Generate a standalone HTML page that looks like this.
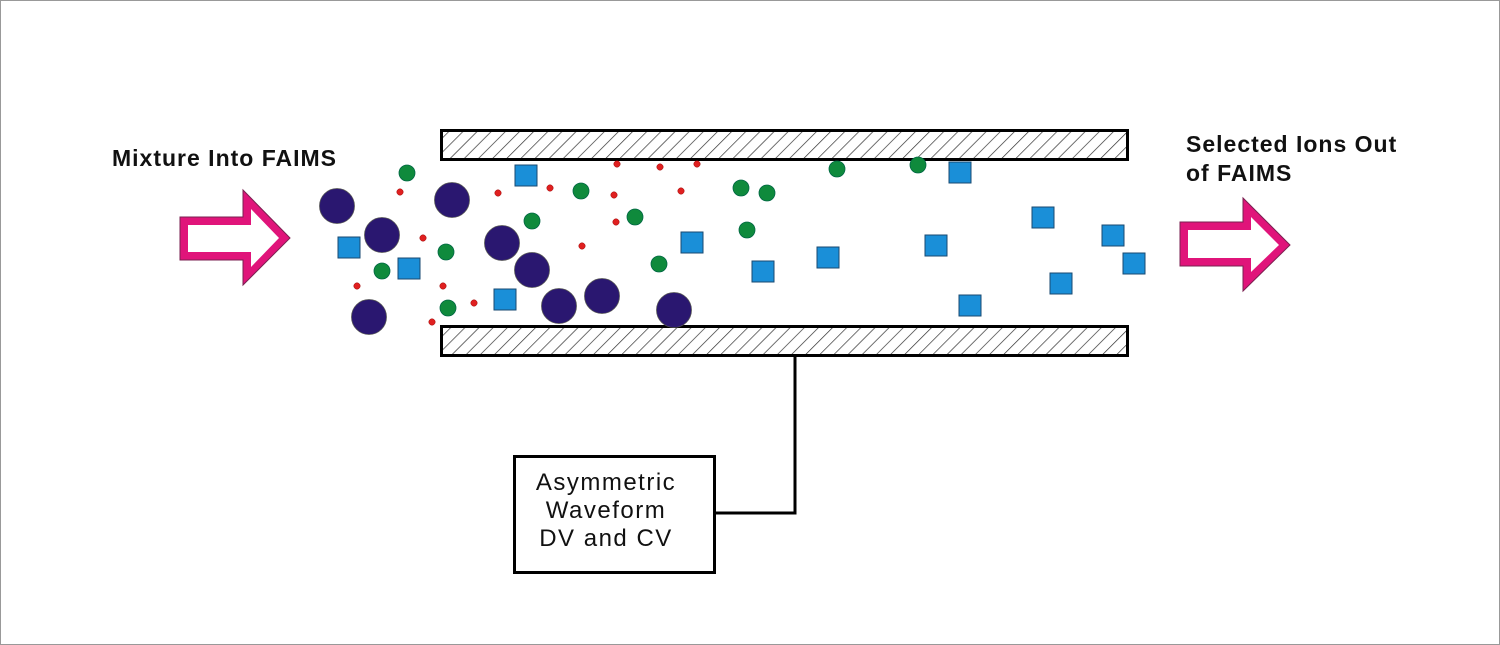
<!DOCTYPE html>
<html><head><meta charset="utf-8"><style>
html,body{margin:0;padding:0;background:#fff}
svg{display:block}
text{font-family:"Liberation Sans",Arial,sans-serif;fill:#111}
</style></head><body>
<svg width="1500" height="645" viewBox="0 0 1500 645" xmlns="http://www.w3.org/2000/svg">
<defs>
<pattern id="h" width="10" height="10" patternUnits="userSpaceOnUse" patternTransform="rotate(45)">
<rect width="10" height="10" fill="#fff"/>
<line x1="0" y1="0" x2="0" y2="10" stroke="#333" stroke-width="1.4"/>
</pattern>
</defs>
<rect x="0.5" y="0.5" width="1499" height="644" fill="#fff" stroke="#999"/>
<rect x="441.5" y="130.5" width="686" height="29" fill="url(#h)" stroke="#000" stroke-width="3"/>
<rect x="441.5" y="326.5" width="686" height="29" fill="url(#h)" stroke="#000" stroke-width="3"/>
<polyline points="795,356 795,513 714,513" fill="none" stroke="#000" stroke-width="3"/>
<rect x="514.5" y="456.5" width="200" height="116" fill="#fff" stroke="#000" stroke-width="3"/>
<text x="606" y="490" font-size="24" letter-spacing="1.5" text-anchor="middle">Asymmetric</text>
<text x="606" y="518" font-size="24" letter-spacing="1.5" text-anchor="middle">Waveform</text>
<text x="606" y="546" font-size="24" letter-spacing="1.5" text-anchor="middle">DV and CV</text>
<text x="112" y="166" font-size="23" letter-spacing="1" font-weight="bold">Mixture Into FAIMS</text>
<text x="1186" y="152" font-size="23" letter-spacing="1" font-weight="bold">Selected Ions Out</text>
<text x="1186" y="181" font-size="23" letter-spacing="1" font-weight="bold">of FAIMS</text>
<polygon points="180,217 243,217 243,190 290,238 243,285 243,260 180,260" fill="#e0147a" stroke="#7a2050" stroke-width="1"/>
<polygon points="188,225 251,225 251,209 279,238 251,267 251,252 188,252" fill="#fff"/>
<polygon points="1180,222 1243,222 1243,198 1290,245 1243,291 1243,266 1180,266" fill="#e0147a" stroke="#7a2050" stroke-width="1"/>
<polygon points="1188,230 1251,230 1251,217 1279,245 1251,272 1251,258 1188,258" fill="#fff"/>
<g fill="#2a1770" stroke="#555" stroke-width="0.8">
<circle cx="337" cy="206" r="17.5"/><circle cx="382" cy="235" r="17.5"/><circle cx="452" cy="200" r="17.5"/>
<circle cx="502" cy="243" r="17.5"/><circle cx="532" cy="270" r="17.5"/><circle cx="559" cy="306" r="17.5"/>
<circle cx="602" cy="296" r="17.5"/><circle cx="674" cy="310" r="17.5"/><circle cx="369" cy="317" r="17.5"/>
</g>
<g fill="#0f8a3c" stroke="#064" stroke-width="0.8">
<circle cx="407" cy="173" r="8"/><circle cx="382" cy="271" r="8"/><circle cx="446" cy="252" r="8"/>
<circle cx="448" cy="308" r="8"/><circle cx="532" cy="221" r="8"/><circle cx="581" cy="191" r="8"/>
<circle cx="635" cy="217" r="8"/><circle cx="659" cy="264" r="8"/><circle cx="741" cy="188" r="8"/>
<circle cx="767" cy="193" r="8"/><circle cx="747" cy="230" r="8"/><circle cx="837" cy="169" r="8"/>
<circle cx="918" cy="165" r="8"/>
</g>
<g fill="#e02020" stroke="#900" stroke-width="0.5">
<circle cx="400" cy="192" r="3.2"/><circle cx="423" cy="238" r="3.2"/><circle cx="357" cy="286" r="3.2"/>
<circle cx="443" cy="286" r="3.2"/><circle cx="432" cy="322" r="3.2"/><circle cx="474" cy="303" r="3.2"/>
<circle cx="498" cy="193" r="3.2"/><circle cx="550" cy="188" r="3.2"/><circle cx="582" cy="246" r="3.2"/>
<circle cx="614" cy="195" r="3.2"/><circle cx="616" cy="222" r="3.2"/><circle cx="617" cy="164" r="3.2"/>
<circle cx="660" cy="167" r="3.2"/><circle cx="681" cy="191" r="3.2"/><circle cx="697" cy="164" r="3.2"/>
</g>
<g fill="#1a8fd8" stroke="#1a4a70" stroke-width="1">
<rect x="338" y="237" width="22" height="21"/><rect x="398" y="258" width="22" height="21"/>
<rect x="515" y="165" width="22" height="21"/><rect x="494" y="289" width="22" height="21"/>
<rect x="681" y="232" width="22" height="21"/><rect x="752" y="261" width="22" height="21"/>
<rect x="817" y="247" width="22" height="21"/><rect x="925" y="235" width="22" height="21"/>
<rect x="949" y="162" width="22" height="21"/><rect x="959" y="295" width="22" height="21"/>
<rect x="1032" y="207" width="22" height="21"/><rect x="1050" y="273" width="22" height="21"/>
<rect x="1102" y="225" width="22" height="21"/><rect x="1123" y="253" width="22" height="21"/>
</g>
</svg>
</body></html>
